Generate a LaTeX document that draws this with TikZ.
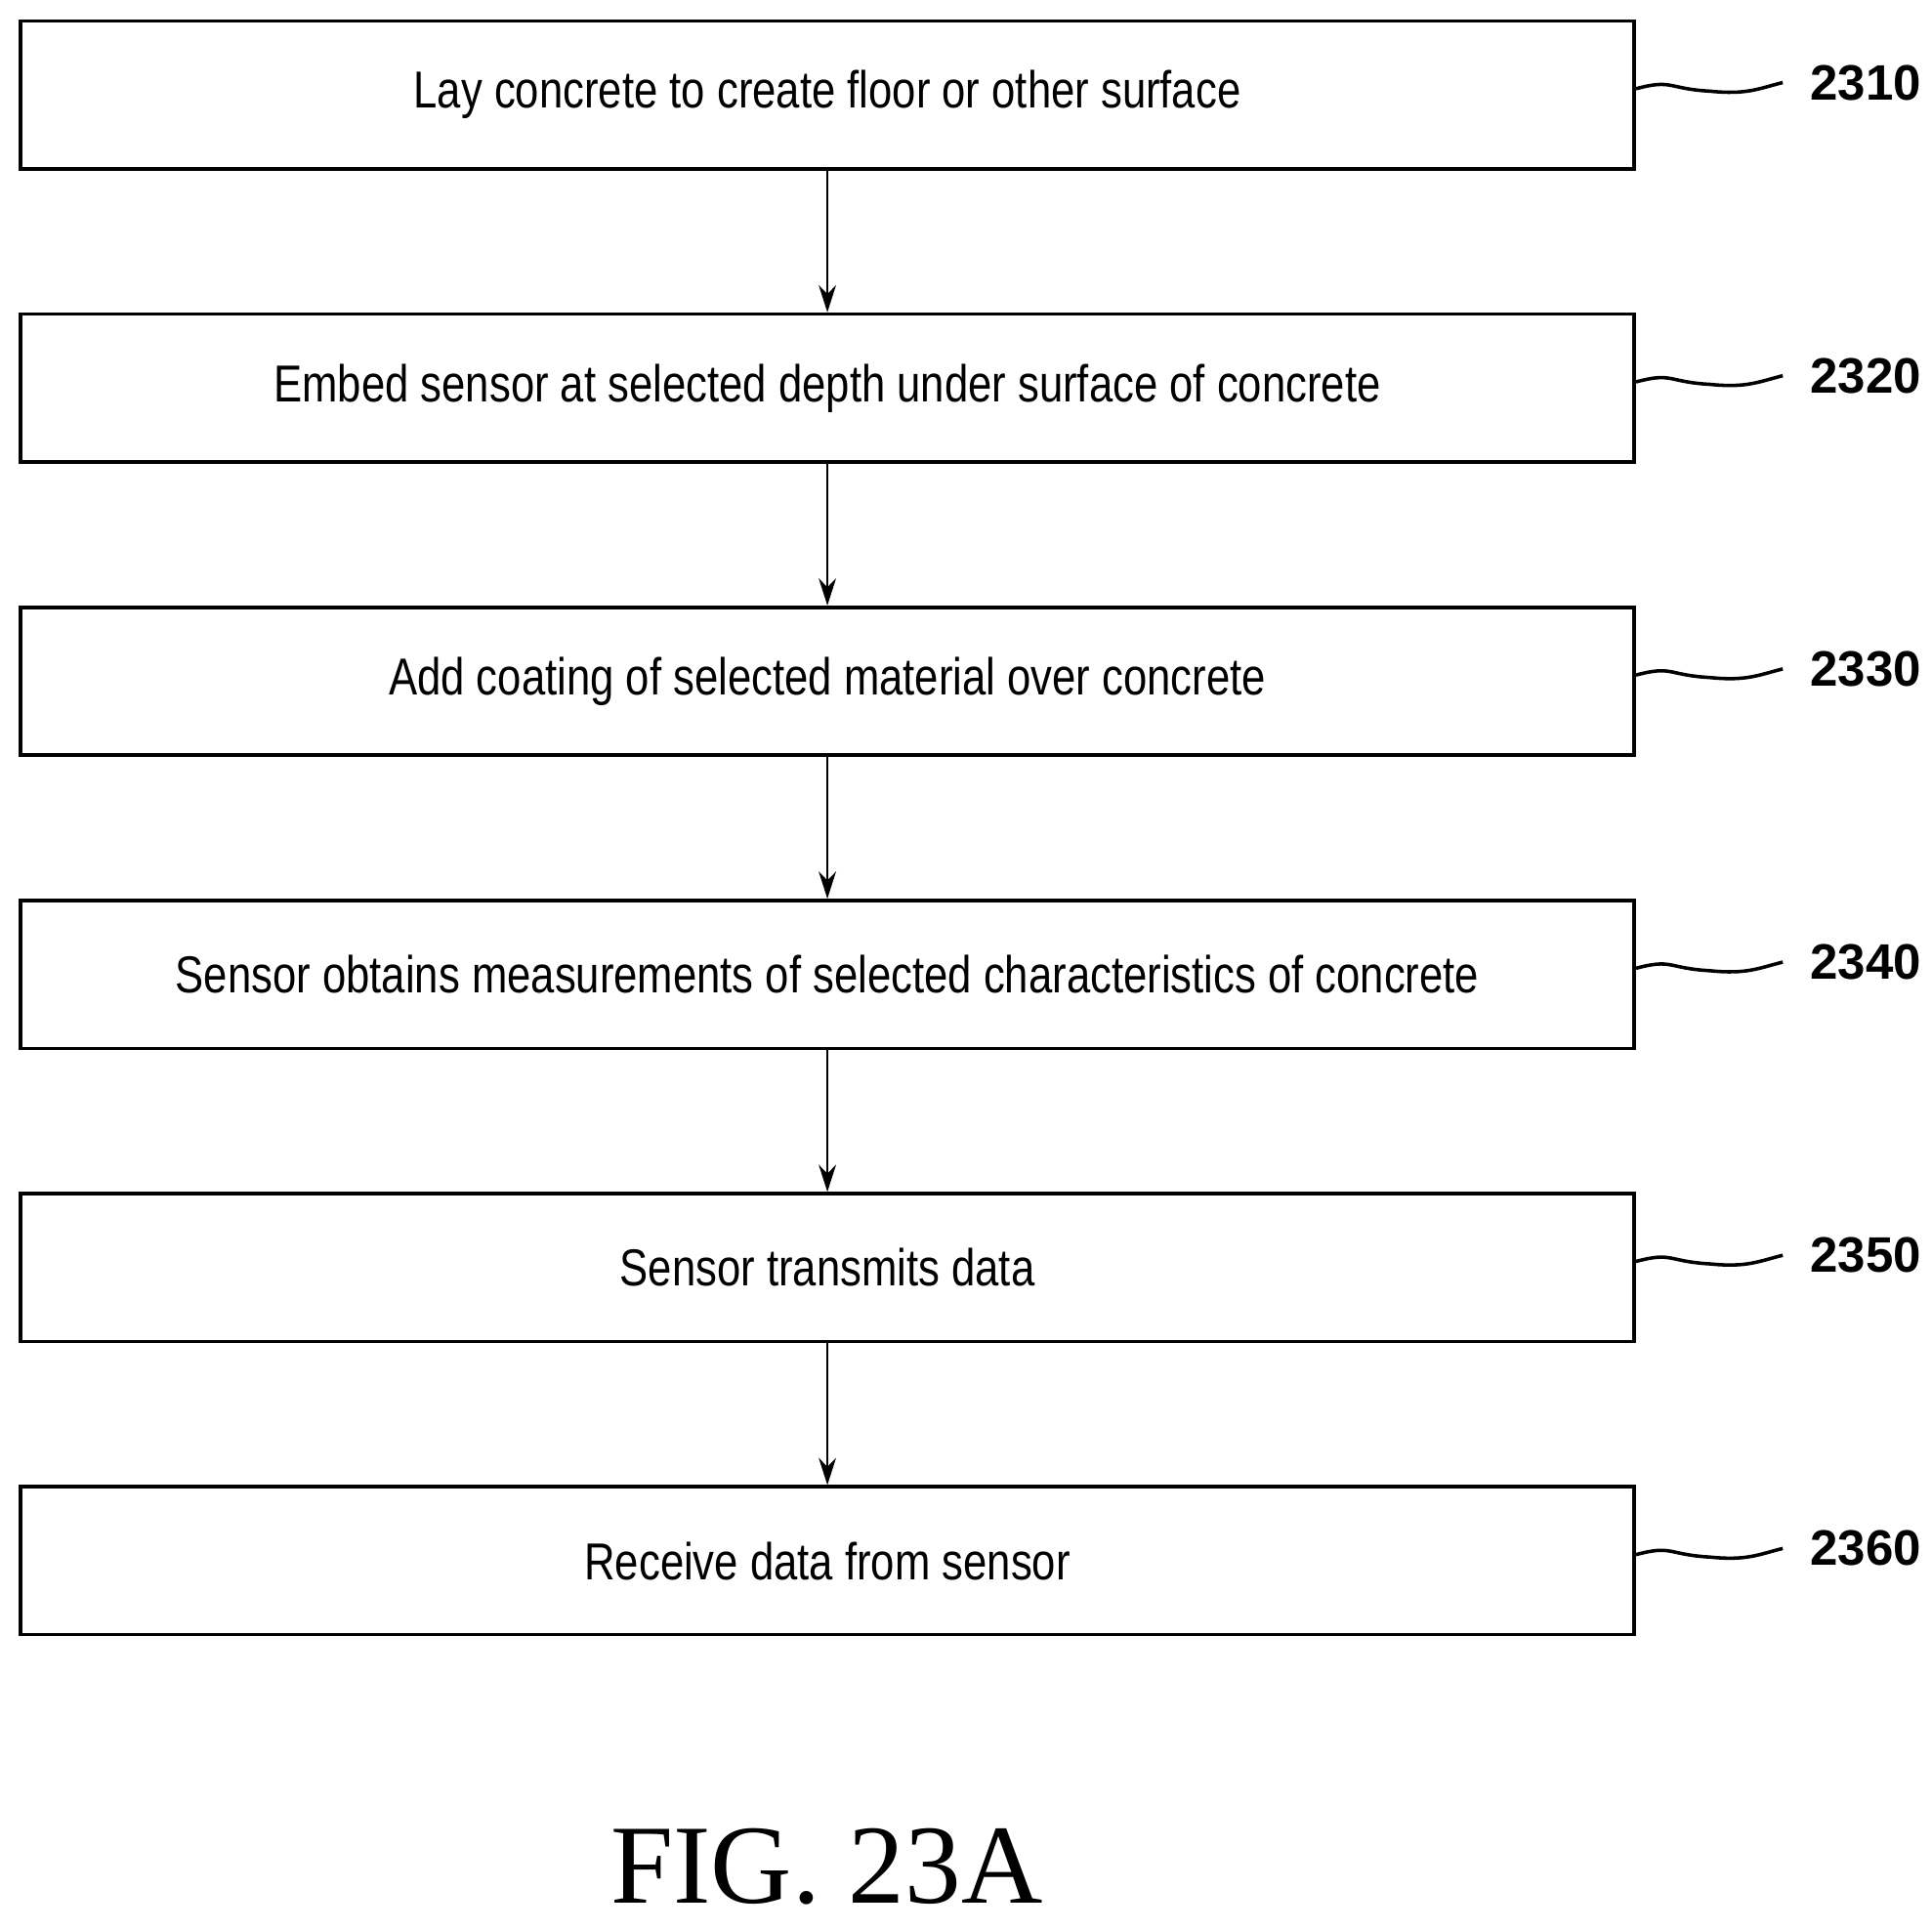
\documentclass[tikz,border=0pt]{standalone}
\usepackage{fontspec}
\setmainfont{Liberation Sans}
\newfontfamily\stepfont{Liberation Sans}[FakeStretch=0.82]
\newfontfamily\figfont{Liberation Serif}
\usetikzlibrary{arrows.meta, positioning}

\tikzset{
    stepbox/.style={draw, thick, minimum width=13.09cm, minimum height=1.2cm,
        inner sep=0pt, font=\stepfont\fontsize{12}{14}\selectfont},
    flow/.style={-{Stealth[length=2.2mm, width=1.4mm]}, semithick},
    tag/.style={font=\bfseries\fontsize{11.5}{14}\selectfont, anchor=west}
}

\begin{document}
\begin{tikzpicture}[x=0.01cm, y=-0.01cm]
    \useasboundingbox (0,0) rectangle (1568,1566);

    % Steps
    \node[stepbox] (s2310) at (671.5,77) {Lay concrete to create floor or other surface};
    \node[stepbox, below=1.15cm of s2310] (s2320) {Embed sensor at selected depth under surface of concrete};
    \node[stepbox, below=1.15cm of s2320] (s2330) {Add coating of selected material over concrete};
    \node[stepbox, below=1.15cm of s2330] (s2340) {Sensor obtains measurements of selected characteristics of concrete};
    \node[stepbox, below=1.15cm of s2340] (s2350) {Sensor transmits data};
    \node[stepbox, below=1.15cm of s2350] (s2360) {Receive data from sensor};

    % Connectors and reference numerals
    \foreach \a/\b in {2310/2320, 2320/2330, 2330/2340, 2340/2350, 2350/2360}
        \draw[flow] (s\a) -- (s\b);
    \foreach \n in {2310, 2320, 2330, 2340, 2350, 2360} {
        \coordinate (w\n) at ([xshift=1.19cm, yshift=0.1cm]s\n.east);
        \node[tag] (t\n) at ([xshift=0.1cm]w\n) {\n};
        \draw[thick] ([yshift=0.05cm]s\n.east) .. controls +(30,-8) and +(-35,-2) .. ++(60,2)
            .. controls +(30,3) and +(-20,5) .. (w\n);
    }

    % Caption
    \node[font=\figfont\fontsize{26}{30}\selectfont] (fig) at (671,1515) {FIG. 23A};
\end{tikzpicture}
\end{document}
